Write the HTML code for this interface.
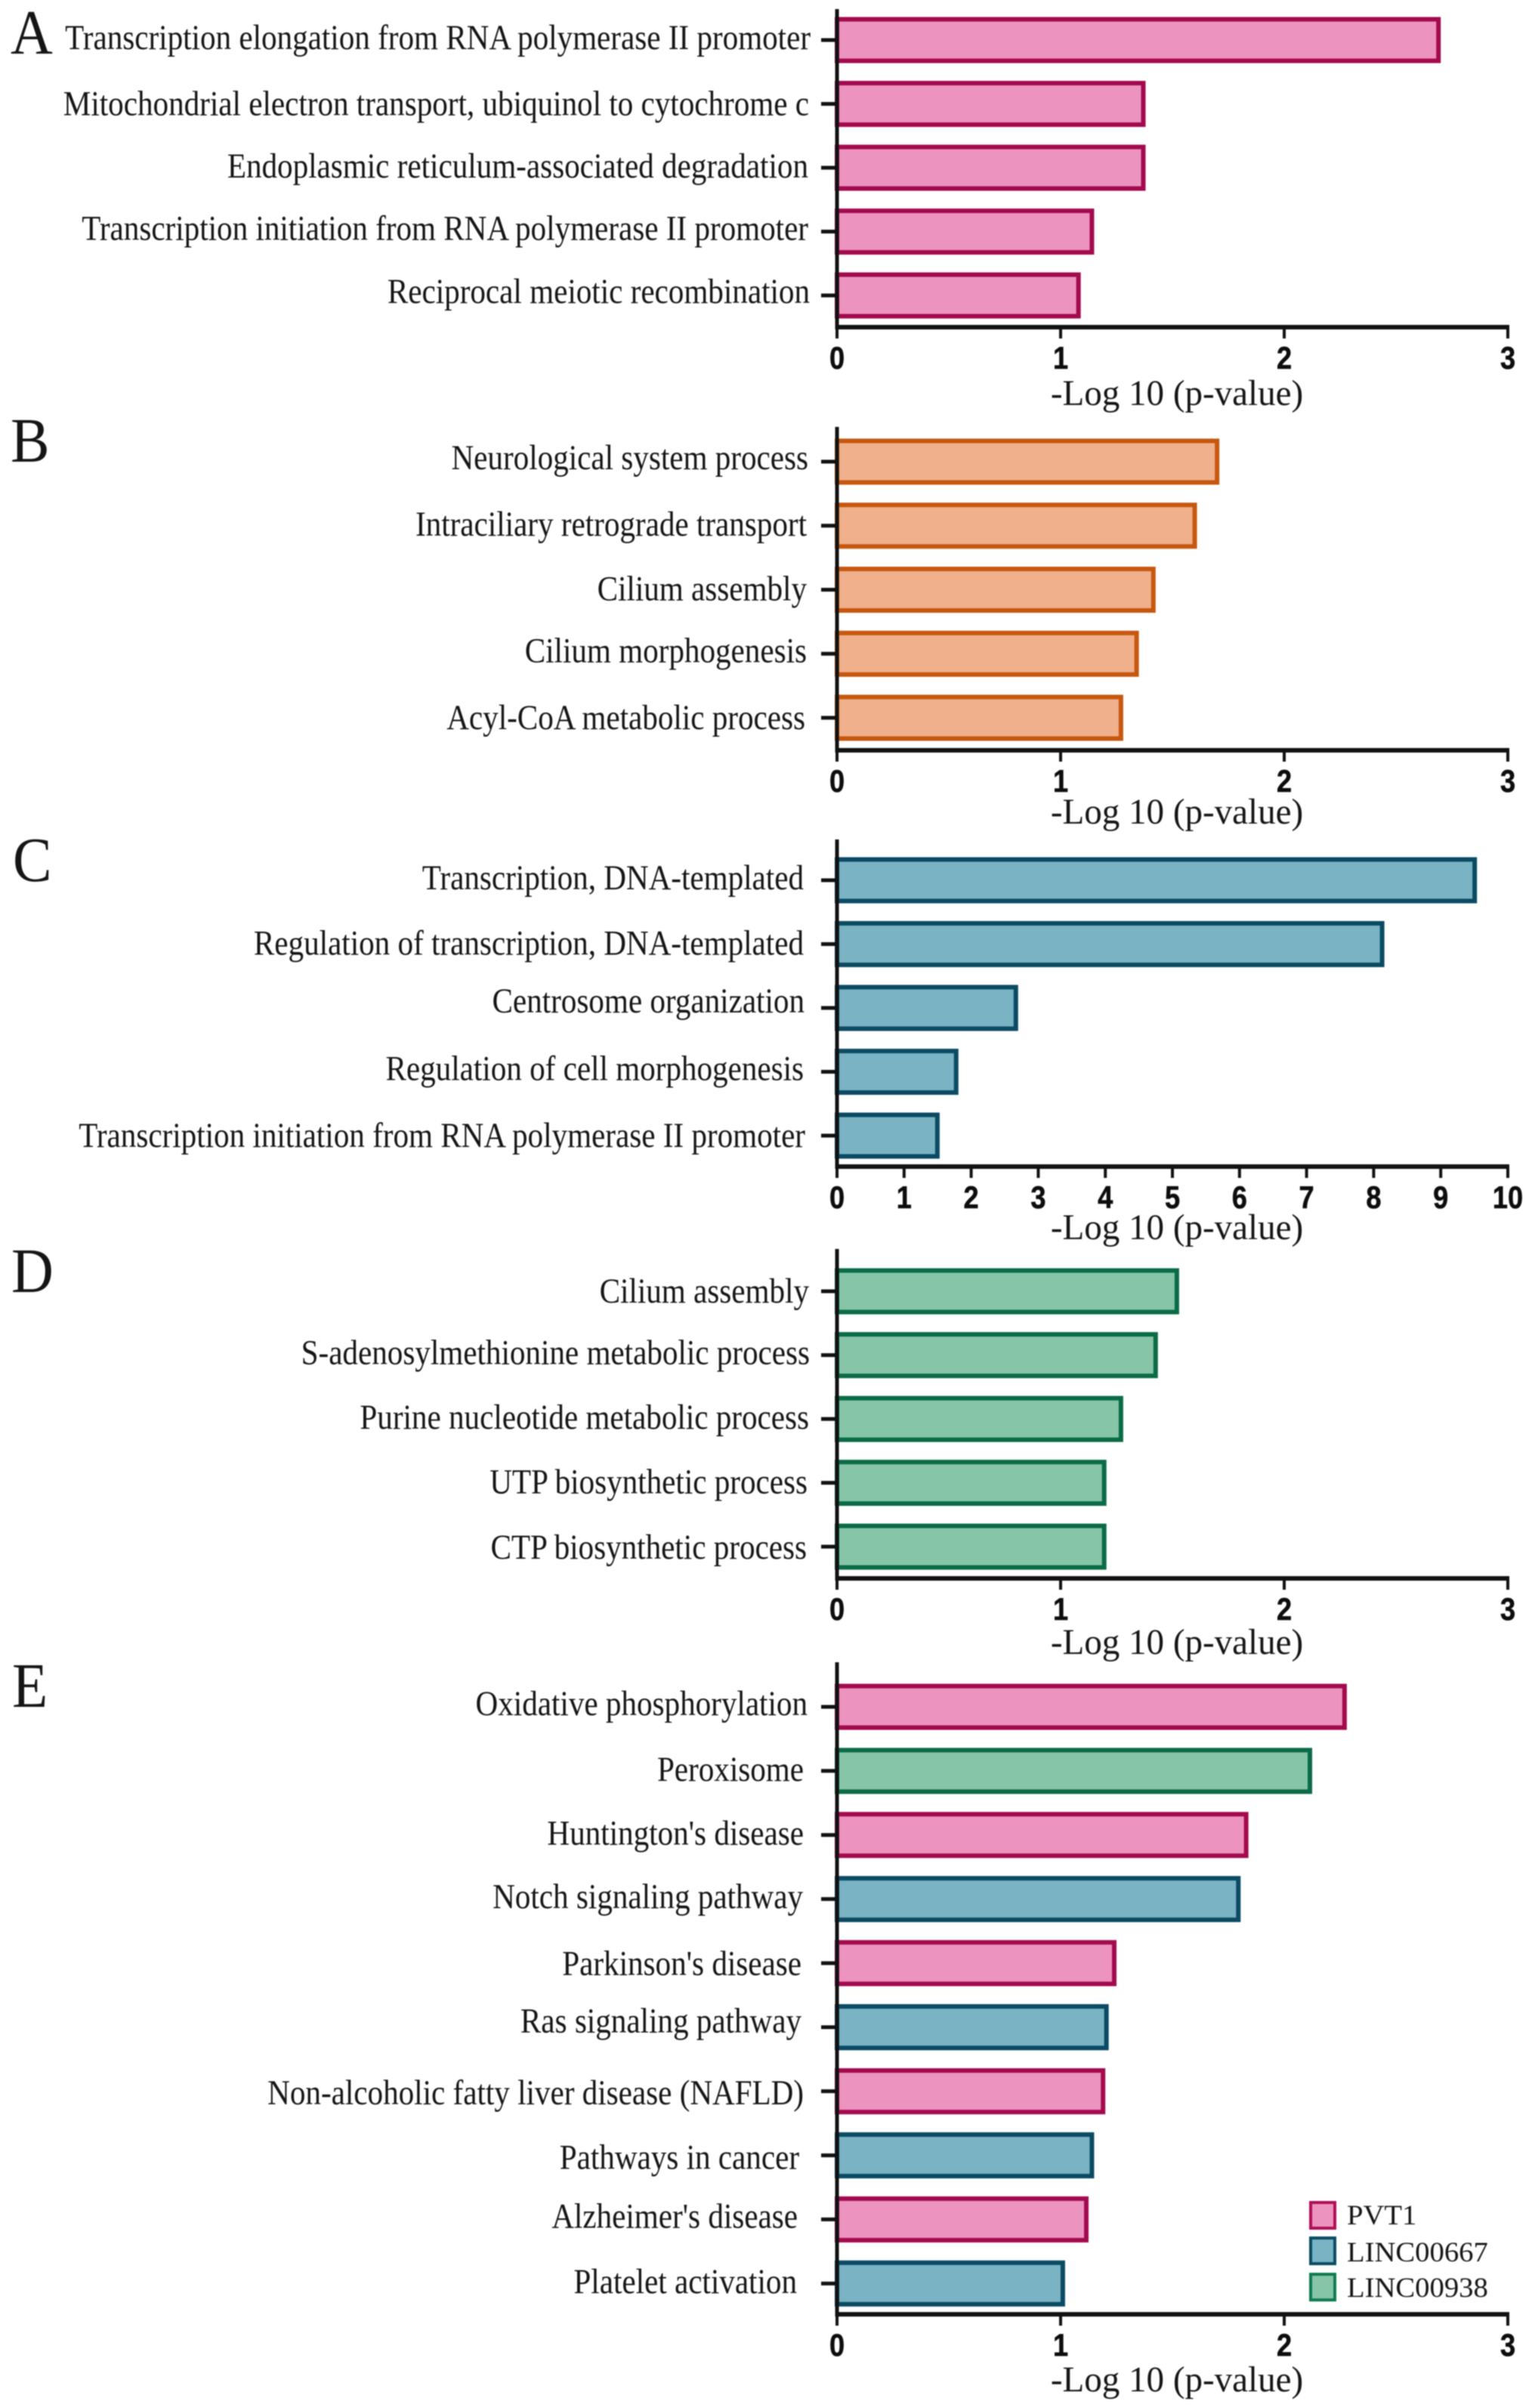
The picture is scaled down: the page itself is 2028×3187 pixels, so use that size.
<!DOCTYPE html>
<html lang="en">
<head>
<meta charset="utf-8">
<title>GO and KEGG enrichment bar charts</title>
<style>
  html, body { margin: 0; padding: 0; background: #fff; }
  #figure { display: block; width: 2028px; height: 3187px; filter: blur(0.8px); }
  text { font-family: "Liberation Serif", serif; fill: #141414; }
  .tick { font-family: "Liberation Sans", sans-serif; font-weight: 700; fill: #0c0c0c; stroke: #0c0c0c; stroke-width: 0.6px; }
</style>
</head>
<body>
<svg id="figure" xmlns="http://www.w3.org/2000/svg" width="2028" height="3187" viewBox="0 0 2028 3187">
  <rect width="2028" height="3187" fill="#fff"></rect>

  <g font-size="84">
    <text transform="translate(14,71) scale(.92,1)">A</text>
    <text transform="translate(14,611) scale(.92,1)">B</text>
    <text transform="translate(17,1166) scale(.92,1)">C</text>
    <text transform="translate(15,1710) scale(.92,1)">D</text>
    <text transform="translate(16,2259) scale(.92,1)">E</text>
  </g>

  <g id="panels"></g>

  <g font-size="37">
    <g>
      <rect x="1735" y="2915" width="32" height="34" fill="#ec94bf" stroke="#b00d55" stroke-width="4"></rect>
      <text transform="translate(1783,2944) scale(1.045,1)">PVT1</text>
    </g>
    <g>
      <rect x="1735" y="2962" width="32" height="34" fill="#7ab3c4" stroke="#0a4a63" stroke-width="4"></rect>
      <text transform="translate(1783,2993) scale(1.045,1)">LINC00667</text>
    </g>
    <g>
      <rect x="1735" y="3010" width="32" height="34" fill="#87c5a9" stroke="#0f7a50" stroke-width="4"></rect>
      <text transform="translate(1783,3040) scale(1.045,1)">LINC00938</text>
    </g>
  </g>
</svg>

<script>
// ---------- Chart data ----------
const categoriesA = ["Transcription elongation from RNA polymerase II promoter", "Mitochondrial electron transport, ubiquinol to cytochrome c", "Endoplasmic reticulum-associated degradation", "Transcription initiation from RNA polymerase II promoter", "Reciprocal meiotic recombination"];
const valuesA = [2.70, 1.38, 1.38, 1.15, 1.09];
const seriesA = ["pvt1", "pvt1", "pvt1", "pvt1", "pvt1"];
const ticksA = ["0", "1", "2", "3"];

const categoriesB = ["Neurological system process", "Intraciliary retrograde transport", "Cilium assembly", "Cilium morphogenesis", "Acyl-CoA metabolic process"];
const valuesB = [1.71, 1.61, 1.425, 1.35, 1.28];
const seriesB = ["orange", "orange", "orange", "orange", "orange"];
const ticksB = ["0", "1", "2", "3"];

const categoriesC = ["Transcription, DNA-templated", "Regulation of transcription, DNA-templated", "Centrosome organization", "Regulation of cell morphogenesis", "Transcription initiation from RNA polymerase II promoter"];
const valuesC = [9.54, 8.16, 2.70, 1.81, 1.53];
const seriesC = ["linc00667", "linc00667", "linc00667", "linc00667", "linc00667"];
const ticksC = ["0", "1", "2", "3", "4", "5", "6", "7", "8", "9", "10"];

const categoriesD = ["Cilium assembly", "S-adenosylmethionine metabolic process", "Purine nucleotide metabolic process", "UTP biosynthetic process", "CTP biosynthetic process"];
const valuesD = [1.53, 1.435, 1.28, 1.205, 1.205];
const seriesD = ["linc00938", "linc00938", "linc00938", "linc00938", "linc00938"];
const ticksD = ["0", "1", "2", "3"];

const categoriesE = ["Oxidative phosphorylation", "Peroxisome", "Huntington's disease", "Notch signaling pathway", "Parkinson's disease", "Ras signaling pathway", "Non-alcoholic fatty liver disease (NAFLD)", "Pathways in cancer", "Alzheimer's disease", "Platelet activation"];
const valuesE = [2.28, 2.125, 1.84, 1.805, 1.25, 1.215, 1.20, 1.15, 1.125, 1.02];
const seriesE = ["pvt1", "linc00938", "pvt1", "linc00667", "pvt1", "linc00667", "pvt1", "linc00667", "pvt1", "linc00667"];
const ticksE = ["0", "1", "2", "3"];

const axisTitle = "-Log 10 (p-value)";

// ---------- Styling ----------
const fills = { pvt1: "#ec94bf", orange: "#f0b08c", linc00667: "#7ab3c4", linc00938: "#87c5a9" };
const strokes = { pvt1: "#a30a4e", orange: "#c6570f", linc00667: "#0a4a63", linc00938: "#0b6b47" };

const SVG_NS = "http://www.w3.org/2000/svg";
const root = document.getElementById("panels");
const X0 = 1108;
const X1 = 1996;

function make(parent, tag, attrs) {
  const el = document.createElementNS(SVG_NS, tag);
  for (const k in attrs) el.setAttribute(k, attrs[k]);
  parent.appendChild(el);
  return el;
}

function drawPanel(key, categories, values, series, ticks, layout) {
  const domainMax = Number(ticks[ticks.length - 1]);
  const xScale = v => X0 + (v / domainMax) * (X1 - X0);
  const yScale = i => layout.first + i * layout.step;
  const BAR_H = 61, SW = 6;

  const g = make(root, "g", {});
  
  

  categories.forEach((name, i) => {
    const cy = yScale(i);
    const bar = make(g, "rect", {
      x: X0,
      y: cy - BAR_H / 2 + SW / 2,
      width: Math.max(0, xScale(values[i]) - X0 - SW / 2),
      height: BAR_H - SW,
      fill: fills[series[i]],
      stroke: strokes[series[i]],
      "stroke-width": SW
    });
    
    

    const tick = make(g, "line", { x1: X0 - 21, x2: X0, y1: cy, y2: cy, stroke: "#111", "stroke-width": 5 });
    
    

    const label = make(g, "text", {
      "text-anchor": "end",
      "font-size": 47,
      transform: "translate(" + layout.right[i] + "," + (cy + layout.base[i]) + ") scale(.8746,1)"
    });
    label.textContent = name;
    
    
  });

  const yAxis = make(g, "line", { x1: X0, x2: X0, y1: layout.top, y2: layout.axis + 2, stroke: "#111", "stroke-width": 5 });
  
  

  const xAxis = make(g, "line", { x1: X0 - 2.5, x2: X1 + 2, y1: layout.axis, y2: layout.axis, stroke: "#111", "stroke-width": 6 });
  
  

  ticks.forEach((t, i) => {
    const x = xScale(Number(t));
    const mark = make(g, "line", { x1: x, x2: x, y1: layout.axis, y2: layout.axis + 15, stroke: "#111", "stroke-width": 4 });
    
    

    const tl = make(g, "text", {
      "class": "tick",
      "text-anchor": "middle",
      "font-size": 42,
      transform: "translate(" + x + "," + (layout.axis + 55) + ") scale(.86,1)"
    });
    tl.textContent = t;
    
    
  });

  const title = make(g, "text", { "text-anchor": "middle", "font-size": 48, transform: "translate(1558," + (layout.axis + layout.titleDy) + ") scale(.98,1)" });
  title.textContent = axisTitle;
  
  
}

drawPanel("a", categoriesA, valuesA, seriesA, ticksA, {
  top: 12, axis: 433, first: 53, step: 84.5, titleDy: 103,
  right: [1073, 1071, 1070, 1070, 1072], base: [12, 15, 13, 11, 10]
});
drawPanel("b", categoriesB, valuesB, seriesB, ticksB, {
  top: 565, axis: 993, first: 611, step: 84.75, titleDy: 97,
  right: [1070, 1068, 1068, 1068, 1066], base: [10, 13, 14, 11, 15]
});
drawPanel("c", categoriesC, valuesC, seriesC, ticksC, {
  top: 1111, axis: 1544, first: 1165, step: 84.5, titleDy: 96,
  right: [1064, 1064, 1065, 1064, 1066], base: [12, 14, 6, 11, 15]
});
drawPanel("d", categoriesD, valuesD, seriesD, ticksD, {
  top: 1653, axis: 2089, first: 1709, step: 84.5, titleDy: 100,
  right: [1071, 1072, 1071, 1069, 1068], base: [15, 12, 13, 14, 16]
});
drawPanel("e", categoriesE, valuesE, seriesE, ticksE, {
  top: 2200, axis: 3063, first: 2259, step: 84.8, titleDy: 102,
  right: [1069, 1064, 1064, 1063, 1061, 1061, 1064, 1058, 1056, 1055],
  base: [11, 13, 13, 12, 16, 7, 17, 18, 11, 13]
});
</script>
</body>
</html>
